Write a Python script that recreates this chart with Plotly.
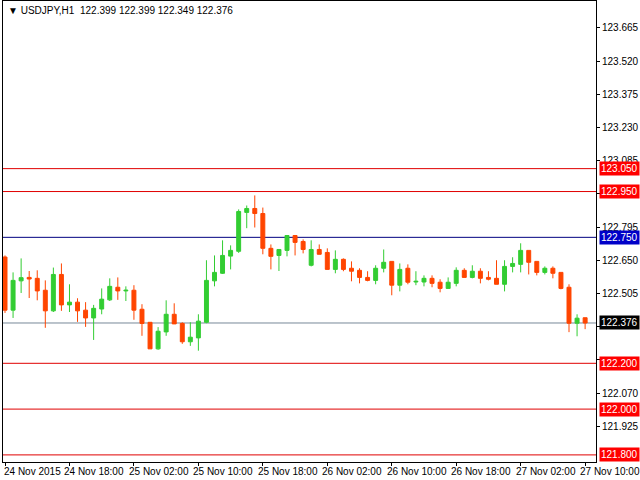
import plotly.graph_objects as go

opens = [122.664,122.432,122.560,122.575,122.571,122.519,122.429,122.588,122.455,122.467,
 122.432,122.398,122.437,122.477,122.532,122.516,122.519,122.436,122.379,122.263,
 122.337,122.414,122.374,122.294,122.311,122.379,122.560,122.593,122.668,122.689,
 122.859,122.876,122.854,122.702,122.671,122.693,122.758,122.732,122.628,122.697,
 122.684,122.610,122.654,122.615,122.606,122.575,122.562,122.615,122.645,122.541,
 122.615,122.555,122.555,122.571,122.554,122.527,122.549,122.606,122.575,122.602,
 122.575,122.571,122.545,122.623,122.632,122.693,122.645,122.597,122.615,122.597,
 122.532,122.375,122.399]
highs = [122.671,122.597,122.658,122.603,122.606,122.562,122.618,122.636,122.545,122.484,
 122.467,122.455,122.527,122.571,122.575,122.536,122.541,122.458,122.379,122.358,
 122.475,122.462,122.379,122.379,122.414,122.650,122.671,122.737,122.715,122.872,
 122.889,122.933,122.880,122.719,122.697,122.758,122.758,122.741,122.737,122.719,
 122.702,122.693,122.658,122.645,122.615,122.602,122.628,122.697,122.645,122.636,
 122.632,122.602,122.584,122.584,122.567,122.575,122.619,122.615,122.628,122.615,
 122.602,122.650,122.650,122.663,122.724,122.693,122.645,122.623,122.623,122.597,
 122.545,122.414,122.399]
lows = [122.420,122.398,122.507,122.485,122.475,122.355,122.424,122.429,122.424,122.381,
 122.359,122.302,122.414,122.472,122.477,122.472,122.390,122.320,122.263,122.259,
 122.320,122.372,122.285,122.276,122.255,122.375,122.536,122.590,122.610,122.682,
 122.790,122.793,122.676,122.610,122.603,122.667,122.671,122.680,122.623,122.676,
 122.610,122.593,122.602,122.558,122.549,122.558,122.545,122.597,122.497,122.514,
 122.545,122.541,122.536,122.532,122.510,122.527,122.536,122.575,122.571,122.549,
 122.562,122.545,122.514,122.597,122.597,122.588,122.584,122.588,122.571,122.523,
 122.336,122.318,122.349]
closes = [122.432,122.562,122.574,122.568,122.516,122.429,122.588,122.455,122.467,122.429,
 122.398,122.440,122.480,122.536,122.516,122.519,122.432,122.374,122.263,122.340,
 122.414,122.372,122.294,122.314,122.384,122.562,122.597,122.671,122.693,122.863,
 122.876,122.854,122.702,122.667,122.697,122.758,122.728,122.697,122.697,122.676,
 122.610,122.654,122.610,122.602,122.575,122.562,122.615,122.641,122.541,122.610,
 122.554,122.558,122.571,122.549,122.527,122.554,122.606,122.575,122.602,122.571,
 122.567,122.545,122.623,122.636,122.693,122.641,122.597,122.615,122.593,122.527,
 122.375,122.397,122.376]

time_labels = ["24 Nov 2015","24 Nov 18:00","25 Nov 02:00","25 Nov 10:00","25 Nov 18:00",
 "26 Nov 02:00","26 Nov 10:00","26 Nov 18:00","27 Nov 02:00","27 Nov 10:00"]
time_idx = [0,8,16,24,32,40,48,56,64,72]
ytick_vals = [123.665,123.520,123.375,123.230,123.085,122.940,122.795,122.650,122.505,
 122.360,122.215,122.070,121.925]
hidden_ticks = [122.940,122.360,122.215]
red_levels = [123.050,122.950,122.200,122.000,121.800]
blue_level = 122.750
last_price = 122.376

x = list(range(len(opens)))
fig = go.Figure(go.Candlestick(x=x, open=opens, high=highs, low=lows, close=closes,
    increasing=dict(line=dict(color="#32CD32", width=1), fillcolor="#32CD32"),
    decreasing=dict(line=dict(color="#FF4500", width=1), fillcolor="#FF4500"),
    whiskerwidth=0))

shapes = []
for lv in red_levels:
    shapes.append(dict(type="line", xref="paper", x0=0, x1=1, y0=lv, y1=lv, line=dict(color="#E00000", width=1), layer="below"))
shapes.append(dict(type="line", xref="paper", x0=0, x1=1, y0=blue_level, y1=blue_level, line=dict(color="#000080", width=1), layer="below"))
shapes.append(dict(type="line", xref="paper", x0=0, x1=1, y0=last_price, y1=last_price, line=dict(color="#778899", width=1), layer="below"))
fig.update_layout(shapes=shapes)

ann = []
f = dict(family="Liberation Sans", size=10, color="black")
def lab(v, bg):
    return dict(xref="paper", x=1.005, y=v, xanchor="left", yanchor="middle", text="%.3f" % v,
        showarrow=False, bgcolor=bg, font=dict(family="Liberation Sans", size=10, color="white"), borderpad=1)
for lv in red_levels:
    ann.append(lab(lv, "#FF0000"))
ann.append(lab(blue_level, "#0000C8"))
ann.append(lab(last_price, "#000000"))
for i, t in zip(time_idx, time_labels):
    ann.append(dict(x=i, yref="paper", y=0, xanchor="left", yanchor="top", yshift=-2,
        xshift=-3 if i == 0 else -7, text=t, showarrow=False, font=f))
ann.append(dict(xref="paper", yref="paper", x=0.005, y=1, xanchor="left", yanchor="top", yshift=-2,
    text="▼ USDJPY,H1  122.399 122.399 122.349 122.376", showarrow=False, font=f))

fig.update_layout(annotations=ann, width=640, height=480,
    margin=dict(l=3, r=44, t=1, b=18, autoexpand=False), paper_bgcolor="white", plot_bgcolor="white",
    showlegend=False,
    xaxis=dict(range=[-0.25, 73.35], rangeslider=dict(visible=False), showgrid=False, zeroline=False,
        tickvals=time_idx, showticklabels=False, ticks="outside", ticklen=3, tickcolor="black",
        showline=True, linecolor="black", mirror=True, linewidth=1),
    yaxis=dict(range=[121.769, 123.782], side="right", showgrid=False, zeroline=False, automargin=False,
        tickvals=ytick_vals, ticktext=["" if v in hidden_ticks else "%.3f" % v for v in ytick_vals],
        ticks="outside", ticklen=3,
        tickcolor="black", tickfont=f, showline=True, linecolor="black", mirror=True, linewidth=1))
fig.write_html("out.html", config={"displayModeBar": False},
    post_script="document.body.style.margin='0';document.body.style.overflow='hidden';")
